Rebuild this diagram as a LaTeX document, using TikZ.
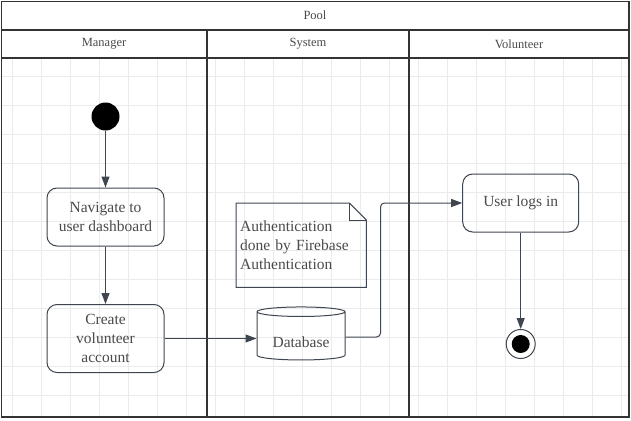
\documentclass[tikz,border=0pt]{standalone}
\usepackage{fontspec}
\setmainfont{Liberation Serif}
\usetikzlibrary{arrows.meta,shapes.geometric,calc}
\definecolor{linegray}{HTML}{3F4650}
\definecolor{textgray}{HTML}{4A4A4A}
\definecolor{gridgray}{HTML}{EBEBEB}
\begin{document}
\begin{tikzpicture}[
    x=1pt, y=-1pt,
    gridline/.style={gridgray, line width=1pt},
    frame/.style={draw=black!80, line width=1.8pt},
    header/.style={font=\fontsize{12.5}{15}\selectfont, text=textgray},
    action/.style={draw=linegray, rounded corners=10pt, line width=1pt, minimum width=117pt,
      align=center, text=textgray, font=\fontsize{15.5}{19}\selectfont},
    flow/.style={draw=linegray, line width=1pt, -{Triangle[length=11pt,width=8pt]}}
  ]
  \useasboundingbox (0,0) rectangle (631,420);
  \fill[white] (0,0) rectangle (631,420);
  % background grid
  \foreach \gx in {0,...,21} \draw[gridline] (12.5+29*\gx,58) -- (12.5+29*\gx,417);
  \foreach \gy in {0,...,11} \draw[gridline] (1.5,76.5+29*\gy) -- (629,76.5+29*\gy);
  % pool and lanes
  \draw[frame] (1.5,1.5) rectangle (629,417);
  \draw[frame] (1.5,30) -- (629,30);
  \draw[frame] (1.5,58) -- (629,58);
  \draw[frame] (207,30) -- (207,417);
  \draw[frame] (409,30) -- (409,417);
  \node[header] (pool) at (315,15) {Pool};
  \node[header] (manager) at (104,44) {Manager};
  \node[header] (system) at (308,44) {System};
  \node[header] (volunteer) at (519,44) {Volunteer};
  % activities
  \node[circle, fill=black, minimum size=28pt, inner sep=0pt] (start) at (105.5,116.5) {};
  \node[action, minimum height=58pt] (navigate) at (105.5,217) {Navigate to\\user dashboard};
  \node[action, minimum height=68pt] (create) at (105.5,338.5) {Create\\volunteer\\account};
  \node[cylinder, shape border rotate=90, aspect=0.15, draw=linegray, line width=1pt,
    minimum width=88pt, minimum height=53pt, text=textgray,
    font=\fontsize{15.5}{19}\selectfont] (db) at (301,337) {\raisebox{-10pt}[0pt][0pt]{Database}};
  \node[anchor=north west, minimum width=130pt, minimum height=84pt, text width=122pt,
    inner sep=4pt, align=left, text=textgray, font=\fontsize{15.5}{19}\selectfont]
    (note) at (236,203) {Authentication\\done by Firebase\\Authentication};
  \draw[linegray, line width=1pt] (note.north west) -- ($(note.north east)+(-17,0)$)
    -- ($(note.north east)+(0,17)$) -- (note.south east) -- (note.south west) -- cycle;
  \draw[linegray, line width=1pt] ($(note.north east)+(-17,0)$) -- ++(0,17) -- ($(note.north east)+(0,17)$);
  \node[action, minimum width=116pt, minimum height=58pt] (userlogin) at (520.7,203) {User logs in};
  \node[circle, draw=linegray, line width=1pt, minimum size=29pt, inner sep=0pt] (final) at (520.7,344) {};
  \node[circle, fill=black, minimum size=18pt, inner sep=0pt] (finaldot) at (final) {};
  % control flow
  \draw[flow] (start) -- (navigate);
  \draw[flow] (navigate) -- (create);
  \draw[flow] (create.east) -- (create.east -| db.west);
  \coordinate (bend) at ($(db.east)+(35,0)$);
  \draw[flow, rounded corners=4pt] (db.east) -- (bend) |- (userlogin.west);
  \draw[flow] (userlogin) -- (final);
\end{tikzpicture}
\end{document}
